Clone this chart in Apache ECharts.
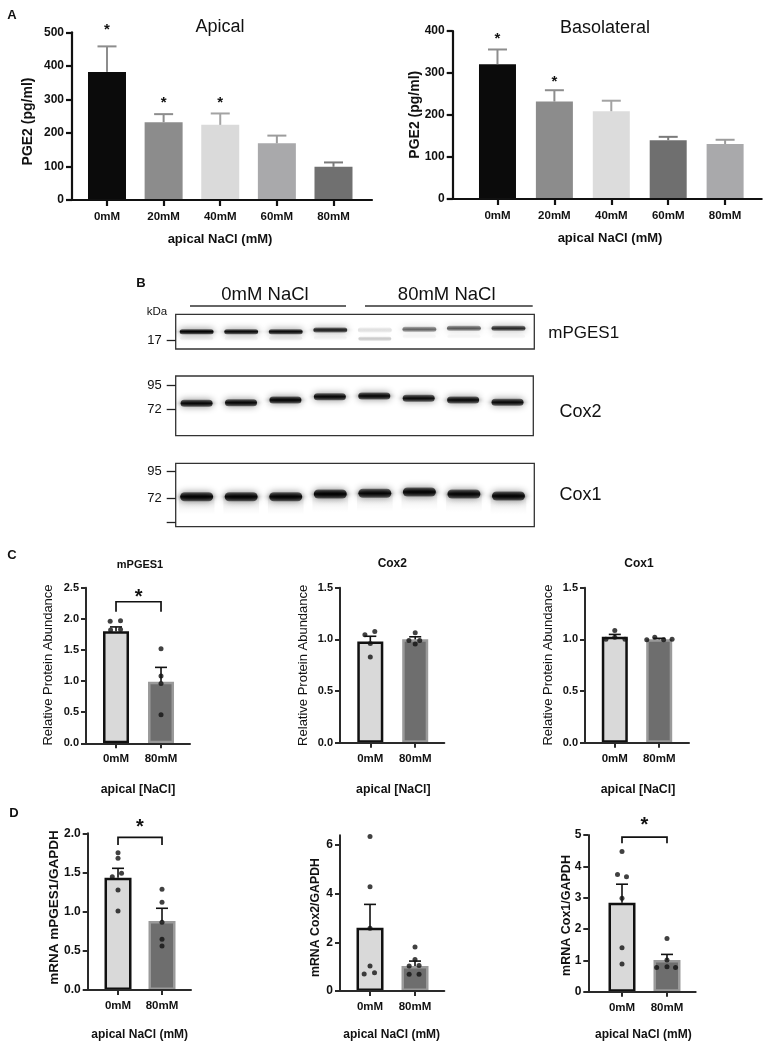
<!DOCTYPE html>
<html><head><meta charset="utf-8">
<script src="https://cdn.jsdelivr.net/npm/echarts@6.0.0/dist/echarts.min.js"></script>
<style>html,body{margin:0;padding:0;background:#fff;}#chart{width:767px;height:1047px;}</style>
</head><body><div id="chart"></div>
<script>
// ================= DATA =================
// Panel A: PGE2 (pg/ml)
const doseCategories = ['0mM', '20mM', '40mM', '60mM', '80mM'];
const apicalMean = [382, 232, 224, 169, 99];
const apicalSem  = [76, 24, 34, 23, 13];
const apicalStarY = [516, 300, 300, null, null];
const basoMean = [321, 232, 209, 140, 131];
const basoSem  = [35, 27, 25, 8, 10];
const basoStarY = [388, 286, null, null, null];

// Panel B: western blot (lane, band migration position, band intensity)
const blotLanes = [1, 2, 3, 4, 5, 6, 7, 8];
const mpgesBandPos = [17.4, 17.4, 17.4, 15.7, 15.7, 15.0, 14.0, 14.0];
const mpgesBandInt = [1.0, 0.95, 0.95, 0.85, 0.12, 0.55, 0.6, 0.8];
const mpgesFaintPos = [24, 24, 24, 23.5, 24.5, 22, 22, 22];
const mpgesFaintInt = [0.05, 0.04, 0.06, 0.04, 0.2, 0.035, 0.035, 0.035];
const cox2BandPos = [27.3, 26.7, 24.0, 20.7, 20.0, 22.3, 24.0, 26.3];
const cox2BandInt = [0.95, 0.95, 0.97, 0.95, 0.95, 0.92, 0.93, 0.93];
const cox1BandPos = [33.4, 33.4, 33.4, 30.7, 30.0, 28.7, 30.7, 32.7];
const cox1BandInt = [0.97, 0.97, 0.97, 0.98, 0.95, 0.97, 0.95, 0.97];
const mpgesMarkers = [25.7];          const mpgesMarkerLabels = ['17'];
const cox2Markers = [9, 33.3];        const cox2MarkerLabels = ['95', '72'];
const cox1Markers = [8.4, 35, 59.4];  const cox1MarkerLabels = ['95', '72', ''];

// Panels C & D: two groups
const pairCategories = ['0mM', '80mM'];
// C: relative protein abundance
const cMpgesMean = [1.80, 0.99];  const cMpgesSem = [0.07, 0.23];
const cMpgesDots0 = [1.96, 1.97, 1.82, 1.83];  const cMpgesJit0 = [-0.13, 0.10, -0.12, 0.10];
const cMpgesDots1 = [1.52, 1.08, 0.96, 0.46];  const cMpgesJit1 = [0, 0, 0, 0];
const cCox2Mean = [0.98, 1.00];   const cCox2Sem = [0.05, 0.025];
const cCox2Dots0 = [1.045, 1.077, 0.83, 0.96]; const cCox2Jit0 = [-0.12, 0.10, 0, 0];
const cCox2Dots1 = [0.99, 1.065, 0.99, 0.955]; const cCox2Jit1 = [-0.14, 0, 0.10, 0];
const cCox1Mean = [1.026, 1.00];  const cCox1Sem = [0.022, 0.01];
const cCox1Dots0 = [1.0, 1.087, 1.0, 1.02];    const cCox1Jit0 = [-0.2, 0, 0.23, 0];
const cCox1Dots1 = [0.997, 1.02, 0.997, 1.0];  const cCox1Jit1 = [-0.28, -0.1, 0.1, 0.29];
// D: mRNA / GAPDH
const dMpgesMean = [1.434, 0.881]; const dMpgesSem = [0.119, 0.162];
const dMpgesDots0 = [1.753, 1.681, 1.447, 1.489, 1.277, 1.009]; const dMpgesJit0 = [0, 0, -0.13, 0.08, 0, 0];
const dMpgesDots1 = [1.285, 1.119, 0.864, 0.647, 0.562];        const dMpgesJit1 = [0, 0, 0, 0, 0];
const dCox2Mean = [2.60, 1.03];   const dCox2Sem = [0.96, 0.20];
const dCox2Dots0 = [6.35, 4.29, 2.58, 1.03, 0.70, 0.75];  const dCox2Jit0 = [0, 0, 0, 0, -0.13, 0.10];
const dCox2Dots1 = [1.81, 1.29, 1.03, 1.05, 0.69, 0.69];  const dCox2Jit1 = [0, 0, -0.13, 0.09, -0.13, 0.09];
const dCox1Mean = [2.84, 1.01];   const dCox1Sem = [0.59, 0.18];
const dCox1Dots0 = [4.47, 3.74, 3.67, 2.98, 1.40, 0.88];  const dCox1Jit0 = [0, -0.1, 0.1, 0, 0, 0];
const dCox1Dots1 = [1.70, 1.01, 0.77, 0.77, 0.80];        const dCox1Jit1 = [0, 0, -0.23, 0.19, 0];
// significance brackets: [x0, x1, bracket level, drop-end level, star level]
const cMpgesBracket = [0, 1, 2.274, 2.113, 2.41];
const dMpgesBracket = [0, 1, 1.949, 1.851, 2.128];
const dCox1Bracket  = [0, 1, 4.93, 4.74, 5.43];

// ================= BUILD =================
const SANS = '"Liberation Sans", Arial, Helvetica, sans-serif';
const BOLD = SANS;
const INK = '#111';
const grids = [], xAxes = [], yAxes = [], series = [], graphics = [];

function addGrid(left, top, width, height, extra) {
  grids.push(Object.assign({left, top, width, height, containLabel: false}, extra || {}));
  return grids.length - 1;
}
function panelAxes(gi, xmin, xmax, cats, y, st) {
  const idx = cats.map((_, i) => i);
  xAxes.push({gridIndex: gi, type: 'value', min: xmin, max: xmax, z: 10,
    axisLine: {show: true, onZero: false, lineStyle: {color: st.color, width: st.lw}},
    axisTick: {show: true, customValues: idx, length: st.tickLen, lineStyle: {color: st.color, width: st.lw}},
    axisLabel: {show: true, customValues: idx, formatter: v => cats[Math.round(v)], margin: st.xMargin,
      fontFamily: BOLD, fontWeight: 'bold', fontSize: st.xFont, color: INK},
    splitLine: {show: false}});
  const ya = {gridIndex: gi, type: 'value', min: 0, max: y.max, z: 10,
    axisLine: {show: true, onZero: false, lineStyle: {color: st.color, width: st.lw}},
    axisTick: {show: true, length: st.tickLen, lineStyle: {color: st.color, width: st.lw}},
    axisLabel: {show: true, margin: st.yMargin, fontFamily: BOLD, fontWeight: 'bold', fontSize: st.yFont, color: INK,
      formatter: y.fmt},
    splitLine: {show: false}};
  if (y.ticks) { ya.axisTick.customValues = y.ticks; ya.axisLabel.customValues = y.ticks; }
  else { ya.interval = y.interval; }
  yAxes.push(ya);
}
function errorSeries(ai, means, sems, colors, cap, lw) {
  series.push({type: 'custom', xAxisIndex: ai, yAxisIndex: ai, z: 4, clip: false, silent: true,
    data: means.map((m, i) => [i, m, sems[i]]),
    renderItem: (p, api) => {
      const x = api.value(0), m = api.value(1), s = api.value(2);
      const a = api.coord([x, m]), b = api.coord([x, m + s]);
      const c = colors[p.dataIndex % colors.length];
      return {type: 'group', children: [
        {type: 'line', shape: {x1: a[0], y1: a[1], x2: b[0], y2: b[1]}, style: {stroke: c, lineWidth: lw}},
        {type: 'line', shape: {x1: b[0] - cap / 2, y1: b[1], x2: b[0] + cap / 2, y2: b[1]}, style: {stroke: c, lineWidth: lw}}
      ]};
    }});
}
function starSeries(ai, starY, fs) {
  const data = [];
  starY.forEach((v, i) => { if (v != null) data.push([i, v]); });
  series.push({type: 'custom', xAxisIndex: ai, yAxisIndex: ai, z: 6, clip: false, silent: true, data,
    renderItem: (p, api) => {
      const c = api.coord([api.value(0), api.value(1)]);
      return {type: 'text', x: c[0], y: c[1] + fs * 0.22,
        style: {text: '*', fontSize: fs, fontWeight: 'bold', fontFamily: SANS, fill: INK, align: 'center', verticalAlign: 'middle'}};
    }});
}
function bracketSeries(ai, br) {
  series.push({type: 'custom', xAxisIndex: ai, yAxisIndex: ai, z: 6, clip: false, silent: true, data: [br],
    renderItem: (p, api) => {
      const x0 = api.value(0), x1 = api.value(1), yt = api.value(2), yd = api.value(3), ys = api.value(4);
      const a = api.coord([x0, yd]), b = api.coord([x0, yt]), c = api.coord([x1, yt]), d = api.coord([x1, yd]);
      const s = api.coord([(x0 + x1) / 2, ys]);
      return {type: 'group', children: [
        {type: 'polyline', shape: {points: [a, b, c, d]}, style: {stroke: INK, lineWidth: 1.7, fill: null}},
        {type: 'text', x: s[0], y: s[1] + 20 * 0.22, style: {text: '*', fontSize: 20, fontWeight: 'bold', fontFamily: SANS, fill: INK, align: 'center', verticalAlign: 'middle'}}
      ]};
    }});
}
function dotSeries(ai, dots0, jit0, dots1, jit1) {
  const data = dots0.map((v, i) => [0 + jit0[i], v]).concat(dots1.map((v, i) => [1 + jit1[i], v]));
  series.push({type: 'scatter', xAxisIndex: ai, yAxisIndex: ai, z: 5, silent: true, symbol: 'circle', symbolSize: 5,
    itemStyle: {color: INK}, data});
}
function pairBars(ai, means, bw) {
  series.push({type: 'bar', xAxisIndex: ai, yAxisIndex: ai, z: 2, silent: true, barWidth: bw,
    data: means.map((m, i) => ({value: [i, m], itemStyle: i === 0
      ? {color: '#d9d9d9', borderColor: '#111', borderWidth: 2.5}
      : {color: '#6e6e6e', borderColor: '#9a9a9a', borderWidth: 2.5}}))});
}

// ---- Panel A ----
const stA = {color: '#111', lw: 2.2, tickLen: 6, xFont: 11.5, yFont: 12, xMargin: 11, yMargin: 8};
const doseColorsApical = ['#0b0b0b', '#8c8c8c', '#dadada', '#a9a9ab', '#707070'];
const doseColorsBaso = ['#0b0b0b', '#8c8c8c', '#dcdcdc', '#6f6f6f', '#a9a9ab'];
let g = addGrid(72, 32.3, 300, 167.7);
panelAxes(g, -0.618, 4.68, doseCategories, {max: 500, interval: 100}, stA);
series.push({type: 'bar', xAxisIndex: g, yAxisIndex: g, z: 2, silent: true, barWidth: 38,
  data: apicalMean.map((m, i) => ({value: [i, m], itemStyle: {color: doseColorsApical[i]}}))});
errorSeries(g, apicalMean, apicalSem, ['#8d8d8d', '#8d8d8d', '#a3a3a3', '#9c9c9c', '#7a7a7a'], 19, 2);
starSeries(g, apicalStarY, 15);

g = addGrid(452.7, 31, 309, 168);
panelAxes(g, -0.787, 4.643, doseCategories, {max: 400, interval: 100}, stA);
series.push({type: 'bar', xAxisIndex: g, yAxisIndex: g, z: 2, silent: true, barWidth: 37,
  data: basoMean.map((m, i) => ({value: [i, m], itemStyle: {color: doseColorsBaso[i]}}))});
errorSeries(g, basoMean, basoSem, ['#8d8d8d', '#8d8d8d', '#a3a3a3', '#7a7a7a', '#9c9c9c'], 19, 2);
starSeries(g, basoStarY, 15);

// ---- Panel B (blot) ----
function blotPanel(left, top, width, height, markers, labels) {
  const gi = addGrid(left, top, width, height, {show: true, borderColor: '#333', borderWidth: 1.3, backgroundColor: '#fff'});
  xAxes.push({gridIndex: gi, type: 'value', min: 0.53, max: 8.58, show: false});
  yAxes.push({gridIndex: gi, type: 'value', inverse: true, min: 0, max: height,
    axisLine: {show: false},
    axisTick: {show: true, customValues: markers, length: 9, lineStyle: {color: '#222', width: 1.3}},
    axisLabel: {show: true, customValues: markers.filter((m, i) => labels[i]), margin: 14,
      formatter: v => { let bi = 0; markers.forEach((m, i) => { if (Math.abs(m - v) < Math.abs(markers[bi] - v)) bi = i; }); return labels[bi]; },
      fontFamily: SANS, fontSize: 13, color: INK},
    splitLine: {show: false}});
  return gi;
}
function bandSeries(ai, pos, intens, w, h, blur) {
  series.push({type: 'custom', xAxisIndex: ai, yAxisIndex: ai, z: 3, clip: true, silent: true,
    data: blotLanes.map((l, i) => [l, pos[i], intens[i]]),
    renderItem: (p, api) => {
      const c = api.coord([api.value(0), api.value(1)]);
      const a = api.value(2);
      const sz = api.size([w, h]);
      const W = Math.abs(sz[0]), H = Math.abs(sz[1]);
      return {type: 'rect', shape: {x: c[0] - W / 2, y: c[1] - H / 2, width: W, height: H, r: H / 2},
        style: {fill: new echarts.graphic.LinearGradient(0, 0, 0, 1, [
          {offset: 0, color: 'rgba(0,0,0,' + (a * 0.5) + ')'},
          {offset: 0.5, color: 'rgba(0,0,0,' + a + ')'},
          {offset: 1, color: 'rgba(0,0,0,' + (a * 0.5) + ')'}]),
          shadowBlur: blur, shadowColor: 'rgba(0,0,0,' + a + ')'}};
    }});
}
function smearSeries(ai, pos, intens, w, len) {
  series.push({type: 'custom', xAxisIndex: ai, yAxisIndex: ai, z: 2, clip: true, silent: true,
    data: blotLanes.map((l, i) => [l, pos[i], intens[i]]),
    renderItem: (p, api) => {
      const c = api.coord([api.value(0), api.value(1)]);
      const sz = api.size([w, len]);
      const W = Math.abs(sz[0]), H = Math.abs(sz[1]);
      return {type: 'rect', shape: {x: c[0] - W / 2, y: c[1], width: W, height: H},
        style: {fill: new echarts.graphic.LinearGradient(0, 0, 0, 1, [
          {offset: 0, color: 'rgba(0,0,0,' + (api.value(2) * 0.09) + ')'},
          {offset: 1, color: 'rgba(0,0,0,0)'}]), shadowBlur: 6, shadowColor: 'rgba(0,0,0,0.05)'}};
    }});
}
g = blotPanel(175.7, 314.3, 358.6, 34.7, mpgesMarkers, mpgesMarkerLabels);
bandSeries(g, mpgesFaintPos, mpgesFaintInt, 0.74, 4, 5);
bandSeries(g, mpgesBandPos, mpgesBandInt, 0.76, 5, 7);
g = blotPanel(175.7, 376, 357.6, 59.7, cox2Markers, cox2MarkerLabels);
bandSeries(g, cox2BandPos, cox2BandInt, 0.72, 7, 7);
g = blotPanel(175.7, 463.3, 358.6, 63.4, cox1Markers, cox1MarkerLabels);
smearSeries(g, cox1BandPos, cox1BandInt, 0.8, 18);
bandSeries(g, cox1BandPos, cox1BandInt, 0.74, 9, 7);

// ---- Panel C ----
const stC = {color: '#2a2a2a', lw: 2, tickLen: 5, xFont: 11.5, yFont: 11, xMargin: 10, yMargin: 7};
const fmt1 = v => v.toFixed(1);
g = addGrid(86, 587.7, 104, 155.6);
panelAxes(g, -0.667, 1.644, pairCategories, {max: 2.5, interval: 0.5, fmt: fmt1}, stC);
pairBars(g, cMpgesMean, 26);
errorSeries(g, cMpgesMean, cMpgesSem, [INK], 12, 1.6);
dotSeries(g, cMpgesDots0, cMpgesJit0, cMpgesDots1, cMpgesJit1);
bracketSeries(g, cMpgesBracket);

g = addGrid(340, 587.7, 104.3, 155);
panelAxes(g, -0.675, 1.648, pairCategories, {max: 1.5, interval: 0.5, fmt: fmt1}, stC);
pairBars(g, cCox2Mean, 26);
errorSeries(g, cCox2Mean, cCox2Sem, [INK], 12, 1.6);
dotSeries(g, cCox2Dots0, cCox2Jit0, cCox2Dots1, cCox2Jit1);

g = addGrid(585, 587.7, 104, 155);
panelAxes(g, -0.671, 1.671, pairCategories, {max: 1.5, interval: 0.5, fmt: fmt1}, stC);
pairBars(g, cCox1Mean, 26);
errorSeries(g, cCox1Mean, cCox1Sem, [INK], 12, 1.6);
dotSeries(g, cCox1Dots0, cCox1Jit0, cCox1Dots1, cCox1Jit1);

// ---- Panel D ----
const stD = {color: '#2a2a2a', lw: 2, tickLen: 5, xFont: 11.5, yFont: 12, xMargin: 10, yMargin: 7};
g = addGrid(87.7, 833.3, 103.3, 156.7);
panelAxes(g, -0.689, 1.659, pairCategories, {max: 2.0, interval: 0.5, fmt: fmt1}, stD);
pairBars(g, dMpgesMean, 27);
errorSeries(g, dMpgesMean, dMpgesSem, [INK], 12, 1.6);
dotSeries(g, dMpgesDots0, dMpgesJit0, dMpgesDots1, dMpgesJit1);
bracketSeries(g, dMpgesBracket);

g = addGrid(340, 835.3, 104.3, 155.7);
panelAxes(g, -0.667, 1.651, pairCategories, {max: 6.4, ticks: [0, 2, 4, 6], fmt: v => String(v)}, stD);
pairBars(g, dCox2Mean, 27);
errorSeries(g, dCox2Mean, dCox2Sem, [INK], 12, 1.6);
dotSeries(g, dCox2Dots0, dCox2Jit0, dCox2Dots1, dCox2Jit1);

g = addGrid(588.3, 835, 107.4, 156.7);
panelAxes(g, -0.749, 1.638, pairCategories, {max: 5, interval: 1, fmt: v => String(v)}, stD);
pairBars(g, dCox1Mean, 27);
errorSeries(g, dCox1Mean, dCox1Sem, [INK], 12, 1.6);
dotSeries(g, dCox1Dots0, dCox1Jit0, dCox1Dots1, dCox1Jit1);
bracketSeries(g, dCox1Bracket);

// ---- Texts ----
function T(x, y, text, size, weight, family, rot) {
  graphics.push({type: 'text', x, y, rotation: rot || 0, z: 100, silent: true,
    style: {text, fontSize: size, fontWeight: weight, fontFamily: family, fill: INK, align: 'center', verticalAlign: 'middle'}});
}
function L(x1, y1, x2, y2) {
  graphics.push({type: 'line', z: 100, silent: true, shape: {x1, y1, x2, y2}, style: {stroke: '#333', lineWidth: 1.3}});
}
const R = Math.PI / 2;
T(12, 15, 'A', 13, 'bold', SANS);
T(141, 283, 'B', 13, 'bold', SANS);
T(12, 555, 'C', 13, 'bold', SANS);
T(14, 813.5, 'D', 13, 'bold', SANS);
T(220, 27, 'Apical', 18, 'normal', SANS);
T(605, 28, 'Basolateral', 18, 'normal', SANS);
T(28.5, 121.5, 'PGE2 (pg/ml)', 14, 'bold', BOLD, R);
T(415.5, 114.7, 'PGE2 (pg/ml)', 14, 'bold', BOLD, R);
T(220, 239, 'apical NaCl (mM)', 13, 'bold', BOLD);
T(610, 238, 'apical NaCl (mM)', 13, 'bold', BOLD);
T(265, 295, '0mM NaCl', 18.5, 'normal', SANS);
T(446.7, 295, '80mM NaCl', 18.5, 'normal', SANS);
L(190, 306, 346, 306);
L(365, 306, 532.7, 306);
T(157, 311.5, 'kDa', 11.5, 'normal', SANS);
T(583.7, 333, 'mPGES1', 17, 'normal', SANS);
T(580.5, 411.7, 'Cox2', 18, 'normal', SANS);
T(580.5, 495, 'Cox1', 18, 'normal', SANS);
T(140, 565, 'mPGES1', 11, 'bold', SANS);
T(392.3, 564, 'Cox2', 12, 'bold', SANS);
T(639, 564, 'Cox1', 12, 'bold', SANS);
T(48.3, 665, 'Relative Protein Abundance', 13, 'normal', SANS, R);
T(303.8, 665.3, 'Relative Protein Abundance', 13, 'normal', SANS, R);
T(548, 665, 'Relative Protein Abundance', 13, 'normal', SANS, R);
T(138, 789.5, 'apical [NaCl]', 12.3, 'bold', BOLD);
T(393.3, 789.5, 'apical [NaCl]', 12.3, 'bold', BOLD);
T(638, 789.5, 'apical [NaCl]', 12.3, 'bold', BOLD);
T(54.2, 907.5, 'mRNA mPGES1/GAPDH', 13.5, 'bold', BOLD, R);
T(315.5, 917.5, 'mRNA Cox2/GAPDH', 12.3, 'bold', BOLD, R);
T(566.7, 915.5, 'mRNA Cox1/GAPDH', 12.5, 'bold', BOLD, R);
T(139.7, 1035, 'apical NaCl (mM)', 12, 'bold', BOLD);
T(391.7, 1035, 'apical NaCl (mM)', 12, 'bold', BOLD);
T(643.3, 1035, 'apical NaCl (mM)', 12, 'bold', BOLD);

const chart = echarts.init(document.getElementById('chart'), null, {renderer: 'canvas', width: 767, height: 1047});
chart.setOption({
  animation: false,
  backgroundColor: '#fff',
  grid: grids, xAxis: xAxes, yAxis: yAxes, series,
  graphic: {elements: graphics}
});
</script></body></html>
